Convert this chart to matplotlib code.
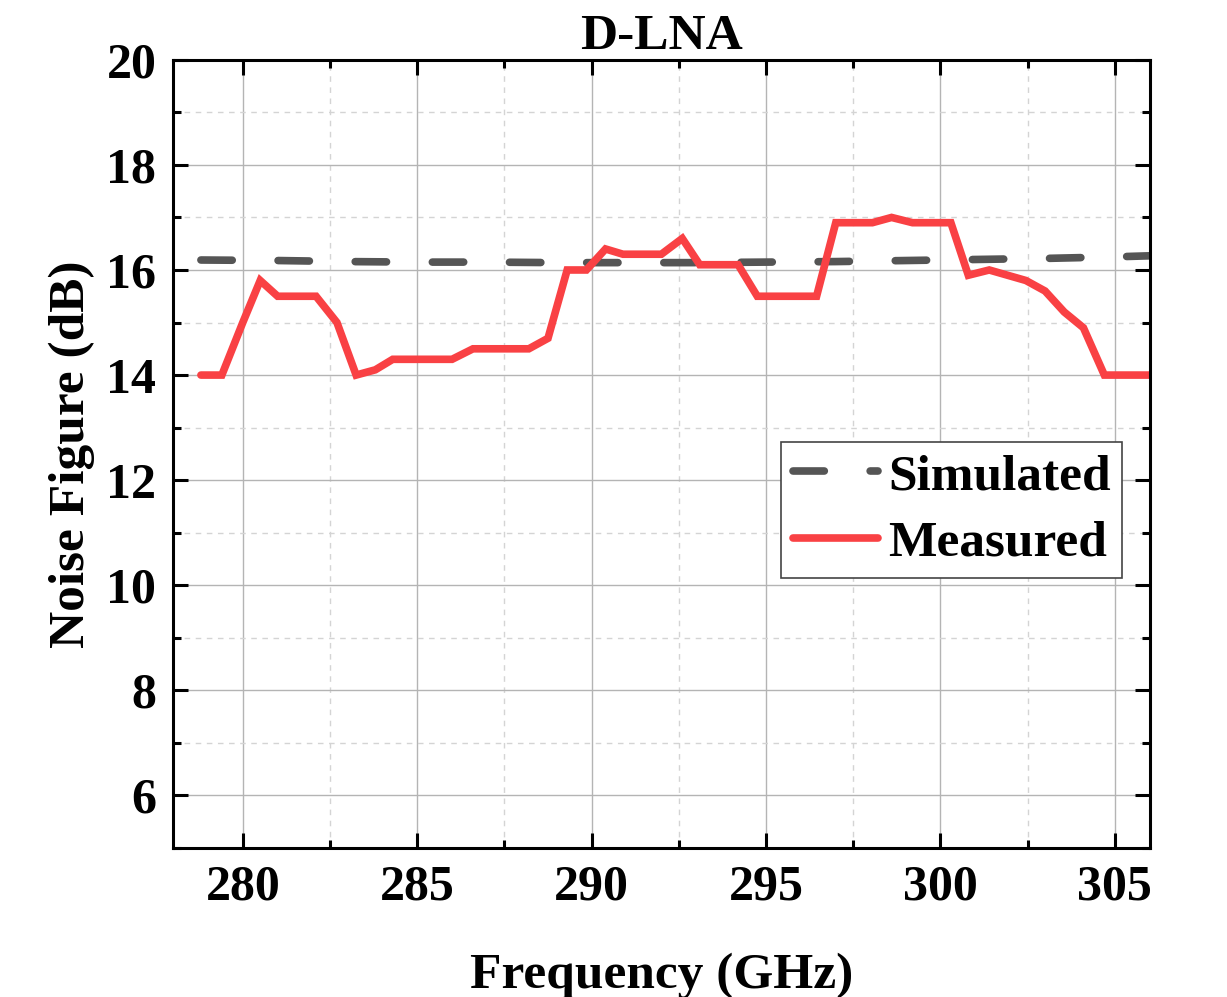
import numpy as np
import matplotlib
matplotlib.use("Agg")
import matplotlib.pyplot as plt
from matplotlib.ticker import MultipleLocator

plt.rcParams['font.family'] = ['Liberation Serif', 'DejaVu Serif']
plt.rcParams['font.weight'] = 'bold'

# measured noise figure
freq_meas = [278.8, 279.4, 280.0, 280.5, 281.0, 282.1, 282.7, 283.25, 283.8, 284.3,
             286.0, 286.6, 288.2, 288.75, 289.3, 289.85, 290.4, 290.9, 292.0, 292.6,
             293.1, 294.2, 294.75, 296.45, 297.0, 298.05, 298.6, 299.2, 300.3, 300.8,
             301.4, 302.45, 303.0, 303.55, 304.1, 304.7, 306.0]
nf_meas = [14.0, 14.0, 15.0, 15.8, 15.5, 15.5, 15.0, 14.0, 14.1, 14.3,
           14.3, 14.5, 14.5, 14.7, 16.0, 16.0, 16.4, 16.3, 16.3, 16.6,
           16.1, 16.1, 15.5, 15.5, 16.9, 16.9, 17.0, 16.9, 16.9, 15.9,
           16.0, 15.8, 15.6, 15.2, 14.9, 14.0, 14.0]

# simulated noise figure
freq_sim = [278.8, 281, 283, 285, 287, 289, 291, 293, 295, 297, 299, 301, 303, 305, 306]
nf_sim = [16.19, 16.18, 16.16, 16.15, 16.15, 16.14, 16.14, 16.14, 16.15, 16.16,
          16.18, 16.20, 16.22, 16.25, 16.27]

fig = plt.figure(figsize=(12.27, 9.97), dpi=100)
ax = fig.add_axes([0.141, 0.1495, 0.796, 0.7905])

ax.plot(freq_sim, nf_sim, color='#555555', lw=5.5, dashes=(4.1, 6.0),
        dash_capstyle='round', label='Simulated')
ax.plot(freq_meas, nf_meas, color='#f94144', lw=5.5, solid_capstyle='round',
        solid_joinstyle='miter', label='Measured')

ax.set_xlim(278, 306)
ax.set_ylim(5, 20)
ax.xaxis.set_major_locator(MultipleLocator(5))
ax.xaxis.set_minor_locator(MultipleLocator(2.5))
ax.yaxis.set_minor_locator(MultipleLocator(1))
ax.set_yticks([6, 8, 10, 12, 14, 16, 18, 20])

ax.grid(which='major', color='#b4b4b4', lw=1.0, ls='-')
ax.grid(which='minor', color='#d4d4d4', lw=1.0, ls=(0, (4, 4)))
ax.set_axisbelow(True)

ax.tick_params(which='both', direction='in', top=True, right=True, width=2.2,
               labelsize=36, pad=12)
ax.tick_params(which='major', length=11)
ax.tick_params(which='minor', length=6)
for s in ax.spines.values():
    s.set_linewidth(2.2)

ax.set_xlabel('Frequency (GHz)', fontsize=37, fontweight='bold', labelpad=30)
ax.set_ylabel('Noise Figure (dB)', fontsize=37, fontweight='bold', labelpad=8)
ax.set_title('D-LNA', fontsize=37, fontweight='bold', pad=2)

leg = ax.legend(loc='upper left', bbox_to_anchor=(0.623, 0.515), borderaxespad=0,
                fontsize=37, handlelength=1.65, handletextpad=0.2, labelspacing=0.38,
                borderpad=0.22, fancybox=False, framealpha=1, edgecolor='#444444')
leg.get_frame().set_linewidth(1.2)

fig.savefig('out.png', dpi=100)
